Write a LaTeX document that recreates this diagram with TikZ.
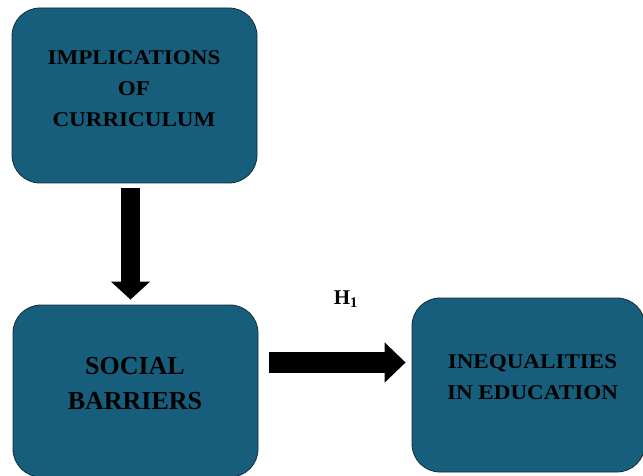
\documentclass[tikz,border=0pt]{standalone}
\usepackage{fontspec}
\setmainfont{Liberation Serif}
\newfontfamily\widefont[FakeStretch=1.1]{Liberation Serif}
\usetikzlibrary{arrows.meta,calc}
\definecolor{boxfill}{RGB}{23,94,124}
\definecolor{boxline}{RGB}{20,45,58}
\tikzset{
  box/.style={draw=boxline, line width=0.8pt, fill=boxfill, rounded corners=28pt, inner sep=0pt},
  lbl/.style={font=\widefont\bfseries\fontsize{21}{31}\selectfont, text=black, align=center, inner sep=0pt}
}
\begin{document}
\begin{tikzpicture}[x=1pt,y=-1pt]
\useasboundingbox (0,0) rectangle (643,476);
\fill[white] (0,0) rectangle (643,476);
% boxes
\node[box, minimum width=245pt, minimum height=175pt] (b1) at (134.5,95.5) {};
\node[box, minimum width=245pt, minimum height=172pt] (b2) at (135.5,391) {};
\node[box, minimum width=233pt, minimum height=174pt] (b3) at (528.5,385) {};
% texts
\node[lbl] (t1) at (134,88.5) {IMPLICATIONS\\OF\\CURRICULUM};
\node[lbl, font=\bfseries\fontsize{26}{35}\selectfont] (t2) at (135,384) {SOCIAL\\BARRIERS};
\node[lbl] (t3) at (532.5,377) {INEQUALITIES\\IN EDUCATION};
% arrows
\coordinate (d1) at ($(b1.south)+(-4,5)$);
\coordinate (d2) at ($(b2.north)+(-5,-5)$);
\draw[line width=19pt, -{Triangle[width=38pt,length=18pt]}] (d1) -- (d2);
\coordinate (r1) at ($(b2.east |- 0,362.5)+(11,0)$);
\coordinate (r2) at ($(b3.west |- 0,362.5)+(-6,0)$);
\draw[line width=21pt, -{Triangle[width=39pt,length=21pt]}] (r1) -- (r2);
\node[font=\bfseries\fontsize{21}{22}\selectfont, inner sep=0pt] (h1) at (346,299) {H\textsubscript{1}};
\end{tikzpicture}
\end{document}
